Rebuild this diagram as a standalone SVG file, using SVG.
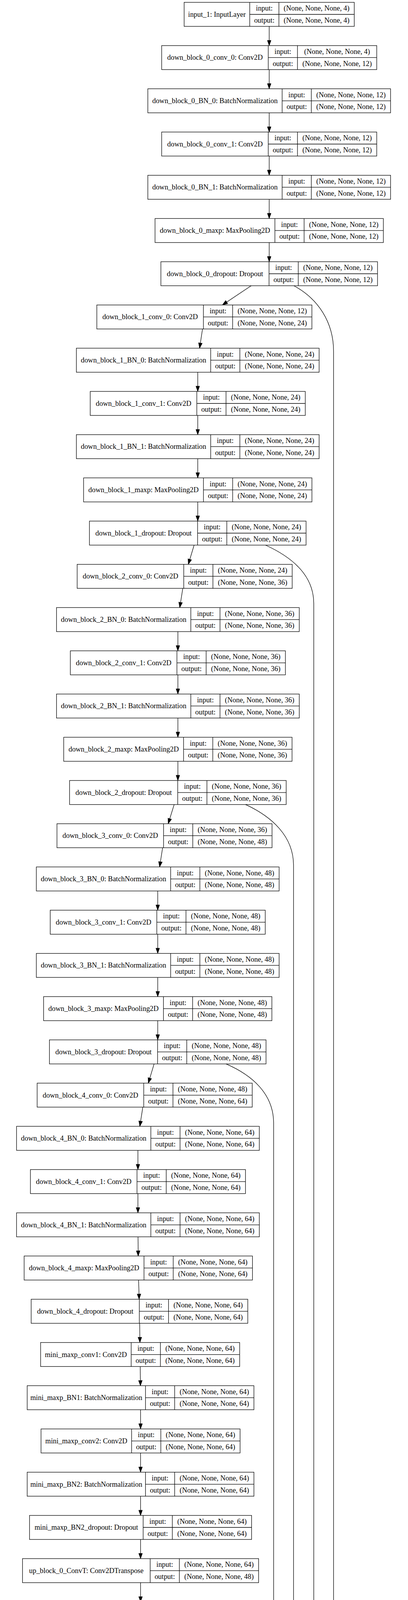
<svg xmlns="http://www.w3.org/2000/svg" width="1045" height="7820" viewBox="0 0 1045 7820">
<style>
.n rect{fill:#fff;stroke:#000;stroke-width:1.3}
.n path{fill:none;stroke:#000;stroke-width:1.3}
.n text{font-family:"Liberation Serif","Times New Roman",serif;font-size:18.4px;text-anchor:middle;fill:#000}
.e path{fill:none;stroke:#000;stroke-width:1.3;marker-end:url(#ah)}
</style>
<defs>
<marker id="ah" markerUnits="userSpaceOnUse" markerWidth="14" markerHeight="10" viewBox="0 0 14 10" refX="13.3" refY="4.67" orient="auto" overflow="visible"><path d="M0,0 L13.3,4.67 L0,9.33 Z" fill="#000" stroke="#000" stroke-width="1"/></marker>
</defs>
<rect width="1045" height="7820" fill="#fff"/>
<g class="e">
<path d="M689.5 67.5V116.7"/>
<path d="M689.5 178.2V227.3"/>
<path d="M689.5 288.8V338"/>
<path d="M689.5 399.5V448.7"/>
<path d="M689.5 510.2V559.4"/>
<path d="M689.5 620.9V670"/>
<path d="M643.3 731.5L569.6 780.7"/>
<path d="M518.7 842.2L511.2 891.4"/>
<path d="M506.5 952.9V1002"/>
<path d="M506.5 1063.5V1112.7"/>
<path d="M506.5 1174.2V1223.4"/>
<path d="M506.5 1284.9V1334"/>
<path d="M497.2 1395.5L482.3 1444.7"/>
<path d="M468.2 1506.2L460.4 1555.4"/>
<path d="M455.6 1616.9V1666.1"/>
<path d="M455.6 1727.6V1776.7"/>
<path d="M455.6 1838.2V1887.4"/>
<path d="M455.6 1948.9V1998.1"/>
<path d="M446.1 2059.6L430.8 2108.7"/>
<path d="M416.5 2170.2L408.8 2219.4"/>
<path d="M404 2280.9V2330.1"/>
<path d="M404 2391.6V2440.7"/>
<path d="M404 2502.2V2551.4"/>
<path d="M404 2612.9V2662.1"/>
<path d="M394.7 2723.6L379.9 2772.8"/>
<path d="M365.8 2834.3L358.1 2883.4"/>
<path d="M353.3 2944.9V2994.1"/>
<path d="M353.3 3055.6V3104.8"/>
<path d="M353.5 3166.3L354 3215.4"/>
<path d="M355 3276.9L356.4 3326.1"/>
<path d="M357.7 3387.6L358.4 3436.8"/>
<path d="M359.2 3498.3L359.7 3547.4"/>
<path d="M360 3608.9V3658.1"/>
<path d="M360 3719.6V3768.8"/>
<path d="M360 3830.3V3879.5"/>
<path d="M360 3941V3990.1"/>
<path d="M360 4051.6V4100.8"/>
<path d="M360 4162.3V4211.5"/>
<path d="M360 4273V4322.1"/>
<path d="M360 4383.6V4432.8"/>
<path d="M360 4494.3V4543.5"/>
<path d="M359.9 4605L359.7 4654.1"/>
<path d="M366.5 4715.6L377.7 4764.8"/>
<path d="M388.4 4826.3L394.3 4875.5"/>
<path d="M400 4937L403 4986.2"/>
<path d="M405.1 5047.7L405.3 5096.8"/>
<path d="M406.4 5158.3L408 5207.5"/>
<path d="M409.2 5269L409.8 5318.2"/>
<path d="M410.5 5379.7L411.1 5428.8"/>
<path d="M411.8 5490.3L412.3 5539.5"/>
<path d="M419.7 5601L430.9 5650.2"/>
<path d="M441.5 5711.7L447 5760.8"/>
<path d="M452.3 5822.3L455 5871.5"/>
<path d="M457.6 5933L458.8 5982.2"/>
<path d="M460 6043.7L460.7 6092.9"/>
<path d="M461.4 6154.4L462 6203.5"/>
<path d="M469.8 6265L481.8 6314.2"/>
<path d="M493.4 6375.7L500.1 6424.9"/>
<path d="M505.1 6486.4L506.7 6535.5"/>
<path d="M509.6 6597L512.7 6646.2"/>
<path d="M514.9 6707.7L515.4 6756.9"/>
<path d="M516 6818.4L516.6 6867.5"/>
<path d="M563.7 6929L638.4 6978.2"/>
<path d="M685.1 7039.7V7088.9"/>
<path d="M685.1 7150.4V7199.6"/>
<path d="M685.1 7261.1V7310.2"/>
<path d="M685.1 7371.7V7420.9"/>
<path d="M685.1 7482.4V7531.6"/>
<path d="M685.1 7593.1V7642.2"/>
<path d="M685.1 7703.7V7752.9"/>
<path d="M752.7 731.5C815 765 854.4 825 854.4 900L854.4 6840C854.4 6910 815 6945 769.3 6978.2"/>
<path d="M680 1395.5C745 1425 803.6 1470 803.6 1545L803.6 6060C803.6 6140 735 6170 646.6 6203.5"/>
<path d="M629 2059.6C695 2090 751.8 2140 751.8 2215L751.8 5310C751.8 5380 688 5398 601 5428.8"/>
<path d="M579 2723.6C645 2752 700.8 2800 700.8 2875L700.8 4530C700.8 4600 630 4625 552.4 4654.1"/>
</g>
<g class="n" id="n0" transform="translate(471.6,6)"><rect width="435.8" height="61.5"/><path d="M168 0V61.5M242.8 0V61.5M168 30.75H435.8"/><text x="84" y="36.8">input_1: InputLayer</text><text x="205.4" y="21.4">input:</text><text x="205.4" y="52.1">output:</text><text x="339.3" y="21.4">(None, None, None, 4)</text><text x="339.3" y="52.1">(None, None, None, 4)</text></g>
<g class="n" id="n1" transform="translate(414.1,116.7)"><rect width="550.8" height="61.5"/><path d="M273 0V61.5M347.8 0V61.5M273 30.75H550.8"/><text x="136.5" y="36.8">down_block_0_conv_0: Conv2D</text><text x="310.4" y="21.4">input:</text><text x="310.4" y="52.1">output:</text><text x="449.3" y="21.4">(None, None, None, 4)</text><text x="449.3" y="52.1">(None, None, None, 12)</text></g>
<g class="n" id="n2" transform="translate(378.6,227.3)"><rect width="621.8" height="61.5"/><path d="M344 0V61.5M418.8 0V61.5M344 30.75H621.8"/><text x="172" y="36.8">down_block_0_BN_0: BatchNormalization</text><text x="381.4" y="21.4">input:</text><text x="381.4" y="52.1">output:</text><text x="520.3" y="21.4">(None, None, None, 12)</text><text x="520.3" y="52.1">(None, None, None, 12)</text></g>
<g class="n" id="n3" transform="translate(414.1,338)"><rect width="550.8" height="61.5"/><path d="M273 0V61.5M347.8 0V61.5M273 30.75H550.8"/><text x="136.5" y="36.8">down_block_0_conv_1: Conv2D</text><text x="310.4" y="21.4">input:</text><text x="310.4" y="52.1">output:</text><text x="449.3" y="21.4">(None, None, None, 12)</text><text x="449.3" y="52.1">(None, None, None, 12)</text></g>
<g class="n" id="n4" transform="translate(378.6,448.7)"><rect width="621.8" height="61.5"/><path d="M344 0V61.5M418.8 0V61.5M344 30.75H621.8"/><text x="172" y="36.8">down_block_0_BN_1: BatchNormalization</text><text x="381.4" y="21.4">input:</text><text x="381.4" y="52.1">output:</text><text x="520.3" y="21.4">(None, None, None, 12)</text><text x="520.3" y="52.1">(None, None, None, 12)</text></g>
<g class="n" id="n5" transform="translate(397.1,559.4)"><rect width="584.8" height="61.5"/><path d="M307 0V61.5M381.8 0V61.5M307 30.75H584.8"/><text x="153.5" y="36.8">down_block_0_maxp: MaxPooling2D</text><text x="344.4" y="21.4">input:</text><text x="344.4" y="52.1">output:</text><text x="483.3" y="21.4">(None, None, None, 12)</text><text x="483.3" y="52.1">(None, None, None, 12)</text></g>
<g class="n" id="n6" transform="translate(412.1,670)"><rect width="554.8" height="61.5"/><path d="M277 0V61.5M351.8 0V61.5M277 30.75H554.8"/><text x="138.5" y="36.8">down_block_0_dropout: Dropout</text><text x="314.4" y="21.4">input:</text><text x="314.4" y="52.1">output:</text><text x="453.3" y="21.4">(None, None, None, 12)</text><text x="453.3" y="52.1">(None, None, None, 12)</text></g>
<g class="n" id="n7" transform="translate(248,780.7)"><rect width="550.8" height="61.5"/><path d="M273 0V61.5M347.8 0V61.5M273 30.75H550.8"/><text x="136.5" y="36.8">down_block_1_conv_0: Conv2D</text><text x="310.4" y="21.4">input:</text><text x="310.4" y="52.1">output:</text><text x="449.3" y="21.4">(None, None, None, 12)</text><text x="449.3" y="52.1">(None, None, None, 24)</text></g>
<g class="n" id="n8" transform="translate(195.6,891.4)"><rect width="621.8" height="61.5"/><path d="M344 0V61.5M418.8 0V61.5M344 30.75H621.8"/><text x="172" y="36.8">down_block_1_BN_0: BatchNormalization</text><text x="381.4" y="21.4">input:</text><text x="381.4" y="52.1">output:</text><text x="520.3" y="21.4">(None, None, None, 24)</text><text x="520.3" y="52.1">(None, None, None, 24)</text></g>
<g class="n" id="n9" transform="translate(231.1,1002)"><rect width="550.8" height="61.5"/><path d="M273 0V61.5M347.8 0V61.5M273 30.75H550.8"/><text x="136.5" y="36.8">down_block_1_conv_1: Conv2D</text><text x="310.4" y="21.4">input:</text><text x="310.4" y="52.1">output:</text><text x="449.3" y="21.4">(None, None, None, 24)</text><text x="449.3" y="52.1">(None, None, None, 24)</text></g>
<g class="n" id="n10" transform="translate(195.6,1112.7)"><rect width="621.8" height="61.5"/><path d="M344 0V61.5M418.8 0V61.5M344 30.75H621.8"/><text x="172" y="36.8">down_block_1_BN_1: BatchNormalization</text><text x="381.4" y="21.4">input:</text><text x="381.4" y="52.1">output:</text><text x="520.3" y="21.4">(None, None, None, 24)</text><text x="520.3" y="52.1">(None, None, None, 24)</text></g>
<g class="n" id="n11" transform="translate(214.1,1223.4)"><rect width="584.8" height="61.5"/><path d="M307 0V61.5M381.8 0V61.5M307 30.75H584.8"/><text x="153.5" y="36.8">down_block_1_maxp: MaxPooling2D</text><text x="344.4" y="21.4">input:</text><text x="344.4" y="52.1">output:</text><text x="483.3" y="21.4">(None, None, None, 24)</text><text x="483.3" y="52.1">(None, None, None, 24)</text></g>
<g class="n" id="n12" transform="translate(229.1,1334)"><rect width="554.8" height="61.5"/><path d="M277 0V61.5M351.8 0V61.5M277 30.75H554.8"/><text x="138.5" y="36.8">down_block_1_dropout: Dropout</text><text x="314.4" y="21.4">input:</text><text x="314.4" y="52.1">output:</text><text x="453.3" y="21.4">(None, None, None, 24)</text><text x="453.3" y="52.1">(None, None, None, 24)</text></g>
<g class="n" id="n13" transform="translate(197.6,1444.7)"><rect width="550.8" height="61.5"/><path d="M273 0V61.5M347.8 0V61.5M273 30.75H550.8"/><text x="136.5" y="36.8">down_block_2_conv_0: Conv2D</text><text x="310.4" y="21.4">input:</text><text x="310.4" y="52.1">output:</text><text x="449.3" y="21.4">(None, None, None, 24)</text><text x="449.3" y="52.1">(None, None, None, 36)</text></g>
<g class="n" id="n14" transform="translate(144.7,1555.4)"><rect width="621.8" height="61.5"/><path d="M344 0V61.5M418.8 0V61.5M344 30.75H621.8"/><text x="172" y="36.8">down_block_2_BN_0: BatchNormalization</text><text x="381.4" y="21.4">input:</text><text x="381.4" y="52.1">output:</text><text x="520.3" y="21.4">(None, None, None, 36)</text><text x="520.3" y="52.1">(None, None, None, 36)</text></g>
<g class="n" id="n15" transform="translate(180.2,1666.1)"><rect width="550.8" height="61.5"/><path d="M273 0V61.5M347.8 0V61.5M273 30.75H550.8"/><text x="136.5" y="36.8">down_block_2_conv_1: Conv2D</text><text x="310.4" y="21.4">input:</text><text x="310.4" y="52.1">output:</text><text x="449.3" y="21.4">(None, None, None, 36)</text><text x="449.3" y="52.1">(None, None, None, 36)</text></g>
<g class="n" id="n16" transform="translate(144.7,1776.7)"><rect width="621.8" height="61.5"/><path d="M344 0V61.5M418.8 0V61.5M344 30.75H621.8"/><text x="172" y="36.8">down_block_2_BN_1: BatchNormalization</text><text x="381.4" y="21.4">input:</text><text x="381.4" y="52.1">output:</text><text x="520.3" y="21.4">(None, None, None, 36)</text><text x="520.3" y="52.1">(None, None, None, 36)</text></g>
<g class="n" id="n17" transform="translate(163.2,1887.4)"><rect width="584.8" height="61.5"/><path d="M307 0V61.5M381.8 0V61.5M307 30.75H584.8"/><text x="153.5" y="36.8">down_block_2_maxp: MaxPooling2D</text><text x="344.4" y="21.4">input:</text><text x="344.4" y="52.1">output:</text><text x="483.3" y="21.4">(None, None, None, 36)</text><text x="483.3" y="52.1">(None, None, None, 36)</text></g>
<g class="n" id="n18" transform="translate(178.2,1998.1)"><rect width="554.8" height="61.5"/><path d="M277 0V61.5M351.8 0V61.5M277 30.75H554.8"/><text x="138.5" y="36.8">down_block_2_dropout: Dropout</text><text x="314.4" y="21.4">input:</text><text x="314.4" y="52.1">output:</text><text x="453.3" y="21.4">(None, None, None, 36)</text><text x="453.3" y="52.1">(None, None, None, 36)</text></g>
<g class="n" id="n19" transform="translate(145.9,2108.7)"><rect width="550.8" height="61.5"/><path d="M273 0V61.5M347.8 0V61.5M273 30.75H550.8"/><text x="136.5" y="36.8">down_block_3_conv_0: Conv2D</text><text x="310.4" y="21.4">input:</text><text x="310.4" y="52.1">output:</text><text x="449.3" y="21.4">(None, None, None, 36)</text><text x="449.3" y="52.1">(None, None, None, 48)</text></g>
<g class="n" id="n20" transform="translate(93.1,2219.4)"><rect width="621.8" height="61.5"/><path d="M344 0V61.5M418.8 0V61.5M344 30.75H621.8"/><text x="172" y="36.8">down_block_3_BN_0: BatchNormalization</text><text x="381.4" y="21.4">input:</text><text x="381.4" y="52.1">output:</text><text x="520.3" y="21.4">(None, None, None, 48)</text><text x="520.3" y="52.1">(None, None, None, 48)</text></g>
<g class="n" id="n21" transform="translate(128.6,2330.1)"><rect width="550.8" height="61.5"/><path d="M273 0V61.5M347.8 0V61.5M273 30.75H550.8"/><text x="136.5" y="36.8">down_block_3_conv_1: Conv2D</text><text x="310.4" y="21.4">input:</text><text x="310.4" y="52.1">output:</text><text x="449.3" y="21.4">(None, None, None, 48)</text><text x="449.3" y="52.1">(None, None, None, 48)</text></g>
<g class="n" id="n22" transform="translate(93.1,2440.7)"><rect width="621.8" height="61.5"/><path d="M344 0V61.5M418.8 0V61.5M344 30.75H621.8"/><text x="172" y="36.8">down_block_3_BN_1: BatchNormalization</text><text x="381.4" y="21.4">input:</text><text x="381.4" y="52.1">output:</text><text x="520.3" y="21.4">(None, None, None, 48)</text><text x="520.3" y="52.1">(None, None, None, 48)</text></g>
<g class="n" id="n23" transform="translate(111.6,2551.4)"><rect width="584.8" height="61.5"/><path d="M307 0V61.5M381.8 0V61.5M307 30.75H584.8"/><text x="153.5" y="36.8">down_block_3_maxp: MaxPooling2D</text><text x="344.4" y="21.4">input:</text><text x="344.4" y="52.1">output:</text><text x="483.3" y="21.4">(None, None, None, 48)</text><text x="483.3" y="52.1">(None, None, None, 48)</text></g>
<g class="n" id="n24" transform="translate(126.6,2662.1)"><rect width="554.8" height="61.5"/><path d="M277 0V61.5M351.8 0V61.5M277 30.75H554.8"/><text x="138.5" y="36.8">down_block_3_dropout: Dropout</text><text x="314.4" y="21.4">input:</text><text x="314.4" y="52.1">output:</text><text x="453.3" y="21.4">(None, None, None, 48)</text><text x="453.3" y="52.1">(None, None, None, 48)</text></g>
<g class="n" id="n25" transform="translate(95.2,2772.8)"><rect width="550.8" height="61.5"/><path d="M273 0V61.5M347.8 0V61.5M273 30.75H550.8"/><text x="136.5" y="36.8">down_block_4_conv_0: Conv2D</text><text x="310.4" y="21.4">input:</text><text x="310.4" y="52.1">output:</text><text x="449.3" y="21.4">(None, None, None, 48)</text><text x="449.3" y="52.1">(None, None, None, 64)</text></g>
<g class="n" id="n26" transform="translate(42.4,2883.4)"><rect width="621.8" height="61.5"/><path d="M344 0V61.5M418.8 0V61.5M344 30.75H621.8"/><text x="172" y="36.8">down_block_4_BN_0: BatchNormalization</text><text x="381.4" y="21.4">input:</text><text x="381.4" y="52.1">output:</text><text x="520.3" y="21.4">(None, None, None, 64)</text><text x="520.3" y="52.1">(None, None, None, 64)</text></g>
<g class="n" id="n27" transform="translate(77.9,2994.1)"><rect width="550.8" height="61.5"/><path d="M273 0V61.5M347.8 0V61.5M273 30.75H550.8"/><text x="136.5" y="36.8">down_block_4_conv_1: Conv2D</text><text x="310.4" y="21.4">input:</text><text x="310.4" y="52.1">output:</text><text x="449.3" y="21.4">(None, None, None, 64)</text><text x="449.3" y="52.1">(None, None, None, 64)</text></g>
<g class="n" id="n28" transform="translate(42.4,3104.8)"><rect width="621.8" height="61.5"/><path d="M344 0V61.5M418.8 0V61.5M344 30.75H621.8"/><text x="172" y="36.8">down_block_4_BN_1: BatchNormalization</text><text x="381.4" y="21.4">input:</text><text x="381.4" y="52.1">output:</text><text x="520.3" y="21.4">(None, None, None, 64)</text><text x="520.3" y="52.1">(None, None, None, 64)</text></g>
<g class="n" id="n29" transform="translate(61.8,3215.4)"><rect width="584.8" height="61.5"/><path d="M307 0V61.5M381.8 0V61.5M307 30.75H584.8"/><text x="153.5" y="36.8">down_block_4_maxp: MaxPooling2D</text><text x="344.4" y="21.4">input:</text><text x="344.4" y="52.1">output:</text><text x="483.3" y="21.4">(None, None, None, 64)</text><text x="483.3" y="52.1">(None, None, None, 64)</text></g>
<g class="n" id="n30" transform="translate(79.8,3326.1)"><rect width="554.8" height="61.5"/><path d="M277 0V61.5M351.8 0V61.5M277 30.75H554.8"/><text x="138.5" y="36.8">down_block_4_dropout: Dropout</text><text x="314.4" y="21.4">input:</text><text x="314.4" y="52.1">output:</text><text x="453.3" y="21.4">(None, None, None, 64)</text><text x="453.3" y="52.1">(None, None, None, 64)</text></g>
<g class="n" id="n31" transform="translate(104,3436.8)"><rect width="509.8" height="61.5"/><path d="M232 0V61.5M306.8 0V61.5M232 30.75H509.8"/><text x="116" y="36.8">mini_maxp_conv1: Conv2D</text><text x="269.4" y="21.4">input:</text><text x="269.4" y="52.1">output:</text><text x="408.3" y="21.4">(None, None, None, 64)</text><text x="408.3" y="52.1">(None, None, None, 64)</text></g>
<g class="n" id="n32" transform="translate(69.6,3547.4)"><rect width="580.8" height="61.5"/><path d="M303 0V61.5M377.8 0V61.5M303 30.75H580.8"/><text x="151.5" y="36.8">mini_maxp_BN1: BatchNormalization</text><text x="340.4" y="21.4">input:</text><text x="340.4" y="52.1">output:</text><text x="479.3" y="21.4">(None, None, None, 64)</text><text x="479.3" y="52.1">(None, None, None, 64)</text></g>
<g class="n" id="n33" transform="translate(105.1,3658.1)"><rect width="509.8" height="61.5"/><path d="M232 0V61.5M306.8 0V61.5M232 30.75H509.8"/><text x="116" y="36.8">mini_maxp_conv2: Conv2D</text><text x="269.4" y="21.4">input:</text><text x="269.4" y="52.1">output:</text><text x="408.3" y="21.4">(None, None, None, 64)</text><text x="408.3" y="52.1">(None, None, None, 64)</text></g>
<g class="n" id="n34" transform="translate(69.6,3768.8)"><rect width="580.8" height="61.5"/><path d="M303 0V61.5M377.8 0V61.5M303 30.75H580.8"/><text x="151.5" y="36.8">mini_maxp_BN2: BatchNormalization</text><text x="340.4" y="21.4">input:</text><text x="340.4" y="52.1">output:</text><text x="479.3" y="21.4">(None, None, None, 64)</text><text x="479.3" y="52.1">(None, None, None, 64)</text></g>
<g class="n" id="n35" transform="translate(75.6,3879.5)"><rect width="568.8" height="61.5"/><path d="M291 0V61.5M365.8 0V61.5M291 30.75H568.8"/><text x="145.5" y="36.8">mini_maxp_BN2_dropout: Dropout</text><text x="328.4" y="21.4">input:</text><text x="328.4" y="52.1">output:</text><text x="467.3" y="21.4">(None, None, None, 64)</text><text x="467.3" y="52.1">(None, None, None, 64)</text></g>
<g class="n" id="n36" transform="translate(57.6,3990.1)"><rect width="604.8" height="61.5"/><path d="M327 0V61.5M401.8 0V61.5M327 30.75H604.8"/><text x="163.5" y="36.8">up_block_0_ConvT: Conv2DTranspose</text><text x="364.4" y="21.4">input:</text><text x="364.4" y="52.1">output:</text><text x="503.3" y="21.4">(None, None, None, 64)</text><text x="503.3" y="52.1">(None, None, None, 48)</text></g>
<g class="n" id="n37" transform="translate(60.1,4100.8)"><rect width="599.8" height="61.5"/><path d="M322 0V61.5M396.8 0V61.5M322 30.75H599.8"/><text x="161" y="36.8">up_block_0_BN_0: BatchNormalization</text><text x="359.4" y="21.4">input:</text><text x="359.4" y="52.1">output:</text><text x="498.3" y="21.4">(None, None, None, 48)</text><text x="498.3" y="52.1">(None, None, None, 48)</text></g>
<g class="n" id="n38" transform="translate(96.1,4211.5)"><rect width="527.8" height="61.5"/><path d="M250 0V61.5M324.8 0V61.5M250 30.75H527.8"/><text x="125" y="36.8">up_block_0_conv_1: Conv2D</text><text x="287.4" y="21.4">input:</text><text x="287.4" y="52.1">output:</text><text x="426.3" y="21.4">(None, None, None, 48)</text><text x="426.3" y="52.1">(None, None, None, 48)</text></g>
<g class="n" id="n39" transform="translate(60.1,4322.1)"><rect width="599.8" height="61.5"/><path d="M322 0V61.5M396.8 0V61.5M322 30.75H599.8"/><text x="161" y="36.8">up_block_0_BN_1: BatchNormalization</text><text x="359.4" y="21.4">input:</text><text x="359.4" y="52.1">output:</text><text x="498.3" y="21.4">(None, None, None, 48)</text><text x="498.3" y="52.1">(None, None, None, 48)</text></g>
<g class="n" id="n40" transform="translate(96.1,4432.8)"><rect width="527.8" height="61.5"/><path d="M250 0V61.5M324.8 0V61.5M250 30.75H527.8"/><text x="125" y="36.8">up_block_0_conv_2: Conv2D</text><text x="287.4" y="21.4">input:</text><text x="287.4" y="52.1">output:</text><text x="426.3" y="21.4">(None, None, None, 48)</text><text x="426.3" y="52.1">(None, None, None, 48)</text></g>
<g class="n" id="n41" transform="translate(60.1,4543.5)"><rect width="599.8" height="61.5"/><path d="M322 0V61.5M396.8 0V61.5M322 30.75H599.8"/><text x="161" y="36.8">up_block_0_BN_2: BatchNormalization</text><text x="359.4" y="21.4">input:</text><text x="359.4" y="52.1">output:</text><text x="498.3" y="21.4">(None, None, None, 48)</text><text x="498.3" y="52.1">(None, None, None, 48)</text></g>
<g class="n" id="n42" transform="translate(4.7,4654.1)"><rect width="709.8" height="61.5"/><path d="M231 0V61.5M305.8 0V61.5M231 30.75H709.8"/><text x="115.5" y="36.8">concatenate_1: Concatenate</text><text x="268.4" y="21.4">input:</text><text x="268.4" y="52.1">output:</text><text x="507.8" y="21.4">[(None, None, None, 48), (None, None, None, 48)]</text><text x="507.8" y="52.1">(None, None, None, 96)</text></g>
<g class="n" id="n43" transform="translate(82.2,4764.8)"><rect width="604.8" height="61.5"/><path d="M327 0V61.5M401.8 0V61.5M327 30.75H604.8"/><text x="163.5" y="36.8">up_block_1_ConvT: Conv2DTranspose</text><text x="364.4" y="21.4">input:</text><text x="364.4" y="52.1">output:</text><text x="503.3" y="21.4">(None, None, None, 96)</text><text x="503.3" y="52.1">(None, None, None, 36)</text></g>
<g class="n" id="n44" transform="translate(98.2,4875.5)"><rect width="599.8" height="61.5"/><path d="M322 0V61.5M396.8 0V61.5M322 30.75H599.8"/><text x="161" y="36.8">up_block_1_BN_0: BatchNormalization</text><text x="359.4" y="21.4">input:</text><text x="359.4" y="52.1">output:</text><text x="498.3" y="21.4">(None, None, None, 36)</text><text x="498.3" y="52.1">(None, None, None, 36)</text></g>
<g class="n" id="n45" transform="translate(141,4986.2)"><rect width="527.8" height="61.5"/><path d="M250 0V61.5M324.8 0V61.5M250 30.75H527.8"/><text x="125" y="36.8">up_block_1_conv_1: Conv2D</text><text x="287.4" y="21.4">input:</text><text x="287.4" y="52.1">output:</text><text x="426.3" y="21.4">(None, None, None, 36)</text><text x="426.3" y="52.1">(None, None, None, 36)</text></g>
<g class="n" id="n46" transform="translate(105.6,5096.8)"><rect width="599.8" height="61.5"/><path d="M322 0V61.5M396.8 0V61.5M322 30.75H599.8"/><text x="161" y="36.8">up_block_1_BN_1: BatchNormalization</text><text x="359.4" y="21.4">input:</text><text x="359.4" y="52.1">output:</text><text x="498.3" y="21.4">(None, None, None, 36)</text><text x="498.3" y="52.1">(None, None, None, 36)</text></g>
<g class="n" id="n47" transform="translate(145,5207.5)"><rect width="527.8" height="61.5"/><path d="M250 0V61.5M324.8 0V61.5M250 30.75H527.8"/><text x="125" y="36.8">up_block_1_conv_2: Conv2D</text><text x="287.4" y="21.4">input:</text><text x="287.4" y="52.1">output:</text><text x="426.3" y="21.4">(None, None, None, 36)</text><text x="426.3" y="52.1">(None, None, None, 36)</text></g>
<g class="n" id="n48" transform="translate(110.2,5318.2)"><rect width="599.8" height="61.5"/><path d="M322 0V61.5M396.8 0V61.5M322 30.75H599.8"/><text x="161" y="36.8">up_block_1_BN_2: BatchNormalization</text><text x="359.4" y="21.4">input:</text><text x="359.4" y="52.1">output:</text><text x="498.3" y="21.4">(None, None, None, 36)</text><text x="498.3" y="52.1">(None, None, None, 36)</text></g>
<g class="n" id="n49" transform="translate(56.6,5428.8)"><rect width="709.8" height="61.5"/><path d="M231 0V61.5M305.8 0V61.5M231 30.75H709.8"/><text x="115.5" y="36.8">concatenate_2: Concatenate</text><text x="268.4" y="21.4">input:</text><text x="268.4" y="52.1">output:</text><text x="507.8" y="21.4">[(None, None, None, 36), (None, None, None, 36)]</text><text x="507.8" y="52.1">(None, None, None, 72)</text></g>
<g class="n" id="n50" transform="translate(110.2,5539.5)"><rect width="604.8" height="61.5"/><path d="M327 0V61.5M401.8 0V61.5M327 30.75H604.8"/><text x="163.5" y="36.8">up_block_2_ConvT: Conv2DTranspose</text><text x="364.4" y="21.4">input:</text><text x="364.4" y="52.1">output:</text><text x="503.3" y="21.4">(None, None, None, 72)</text><text x="503.3" y="52.1">(None, None, None, 24)</text></g>
<g class="n" id="n51" transform="translate(138.1,5650.2)"><rect width="599.8" height="61.5"/><path d="M322 0V61.5M396.8 0V61.5M322 30.75H599.8"/><text x="161" y="36.8">up_block_2_BN_0: BatchNormalization</text><text x="359.4" y="21.4">input:</text><text x="359.4" y="52.1">output:</text><text x="498.3" y="21.4">(None, None, None, 24)</text><text x="498.3" y="52.1">(None, None, None, 24)</text></g>
<g class="n" id="n52" transform="translate(186.6,5760.8)"><rect width="527.8" height="61.5"/><path d="M250 0V61.5M324.8 0V61.5M250 30.75H527.8"/><text x="125" y="36.8">up_block_2_conv_1: Conv2D</text><text x="287.4" y="21.4">input:</text><text x="287.4" y="52.1">output:</text><text x="426.3" y="21.4">(None, None, None, 24)</text><text x="426.3" y="52.1">(None, None, None, 24)</text></g>
<g class="n" id="n53" transform="translate(156.9,5871.5)"><rect width="599.8" height="61.5"/><path d="M322 0V61.5M396.8 0V61.5M322 30.75H599.8"/><text x="161" y="36.8">up_block_2_BN_1: BatchNormalization</text><text x="359.4" y="21.4">input:</text><text x="359.4" y="52.1">output:</text><text x="498.3" y="21.4">(None, None, None, 24)</text><text x="498.3" y="52.1">(None, None, None, 24)</text></g>
<g class="n" id="n54" transform="translate(195.7,5982.2)"><rect width="527.8" height="61.5"/><path d="M250 0V61.5M324.8 0V61.5M250 30.75H527.8"/><text x="125" y="36.8">up_block_2_conv_2: Conv2D</text><text x="287.4" y="21.4">input:</text><text x="287.4" y="52.1">output:</text><text x="426.3" y="21.4">(None, None, None, 24)</text><text x="426.3" y="52.1">(None, None, None, 24)</text></g>
<g class="n" id="n55" transform="translate(161.2,6092.9)"><rect width="599.8" height="61.5"/><path d="M322 0V61.5M396.8 0V61.5M322 30.75H599.8"/><text x="161" y="36.8">up_block_2_BN_2: BatchNormalization</text><text x="359.4" y="21.4">input:</text><text x="359.4" y="52.1">output:</text><text x="498.3" y="21.4">(None, None, None, 24)</text><text x="498.3" y="52.1">(None, None, None, 24)</text></g>
<g class="n" id="n56" transform="translate(107.4,6203.5)"><rect width="709.8" height="61.5"/><path d="M231 0V61.5M305.8 0V61.5M231 30.75H709.8"/><text x="115.5" y="36.8">concatenate_3: Concatenate</text><text x="268.4" y="21.4">input:</text><text x="268.4" y="52.1">output:</text><text x="507.8" y="21.4">[(None, None, None, 24), (None, None, None, 24)]</text><text x="507.8" y="52.1">(None, None, None, 48)</text></g>
<g class="n" id="n57" transform="translate(186.9,6314.2)"><rect width="604.8" height="61.5"/><path d="M327 0V61.5M401.8 0V61.5M327 30.75H604.8"/><text x="163.5" y="36.8">up_block_3_ConvT: Conv2DTranspose</text><text x="364.4" y="21.4">input:</text><text x="364.4" y="52.1">output:</text><text x="503.3" y="21.4">(None, None, None, 48)</text><text x="503.3" y="52.1">(None, None, None, 12)</text></g>
<g class="n" id="n58" transform="translate(204.3,6424.9)"><rect width="599.8" height="61.5"/><path d="M322 0V61.5M396.8 0V61.5M322 30.75H599.8"/><text x="161" y="36.8">up_block_3_BN_0: BatchNormalization</text><text x="359.4" y="21.4">input:</text><text x="359.4" y="52.1">output:</text><text x="498.3" y="21.4">(None, None, None, 12)</text><text x="498.3" y="52.1">(None, None, None, 12)</text></g>
<g class="n" id="n59" transform="translate(243.7,6535.5)"><rect width="527.8" height="61.5"/><path d="M250 0V61.5M324.8 0V61.5M250 30.75H527.8"/><text x="125" y="36.8">up_block_3_conv_1: Conv2D</text><text x="287.4" y="21.4">input:</text><text x="287.4" y="52.1">output:</text><text x="426.3" y="21.4">(None, None, None, 12)</text><text x="426.3" y="52.1">(None, None, None, 12)</text></g>
<g class="n" id="n60" transform="translate(214.8,6646.2)"><rect width="599.8" height="61.5"/><path d="M322 0V61.5M396.8 0V61.5M322 30.75H599.8"/><text x="161" y="36.8">up_block_3_BN_1: BatchNormalization</text><text x="359.4" y="21.4">input:</text><text x="359.4" y="52.1">output:</text><text x="498.3" y="21.4">(None, None, None, 12)</text><text x="498.3" y="52.1">(None, None, None, 12)</text></g>
<g class="n" id="n61" transform="translate(251.7,6756.9)"><rect width="527.8" height="61.5"/><path d="M250 0V61.5M324.8 0V61.5M250 30.75H527.8"/><text x="125" y="36.8">up_block_3_conv_2: Conv2D</text><text x="287.4" y="21.4">input:</text><text x="287.4" y="52.1">output:</text><text x="426.3" y="21.4">(None, None, None, 12)</text><text x="426.3" y="52.1">(None, None, None, 12)</text></g>
<g class="n" id="n62" transform="translate(217.1,6867.5)"><rect width="599.8" height="61.5"/><path d="M322 0V61.5M396.8 0V61.5M322 30.75H599.8"/><text x="161" y="36.8">up_block_3_BN_2: BatchNormalization</text><text x="359.4" y="21.4">input:</text><text x="359.4" y="52.1">output:</text><text x="498.3" y="21.4">(None, None, None, 12)</text><text x="498.3" y="52.1">(None, None, None, 12)</text></g>
<g class="n" id="n63" transform="translate(330.2,6978.2)"><rect width="709.8" height="61.5"/><path d="M231 0V61.5M305.8 0V61.5M231 30.75H709.8"/><text x="115.5" y="36.8">concatenate_4: Concatenate</text><text x="268.4" y="21.4">input:</text><text x="268.4" y="52.1">output:</text><text x="507.8" y="21.4">[(None, None, None, 12), (None, None, None, 12)]</text><text x="507.8" y="52.1">(None, None, None, 24)</text></g>
<g class="n" id="n64" transform="translate(382.7,7088.9)"><rect width="604.8" height="61.5"/><path d="M327 0V61.5M401.8 0V61.5M327 30.75H604.8"/><text x="163.5" y="36.8">up_block_4_ConvT: Conv2DTranspose</text><text x="364.4" y="21.4">input:</text><text x="364.4" y="52.1">output:</text><text x="503.3" y="21.4">(None, None, None, 24)</text><text x="503.3" y="52.1">(None, None, None, 64)</text></g>
<g class="n" id="n65" transform="translate(385.2,7199.6)"><rect width="599.8" height="61.5"/><path d="M322 0V61.5M396.8 0V61.5M322 30.75H599.8"/><text x="161" y="36.8">up_block_4_BN_0: BatchNormalization</text><text x="359.4" y="21.4">input:</text><text x="359.4" y="52.1">output:</text><text x="498.3" y="21.4">(None, None, None, 64)</text><text x="498.3" y="52.1">(None, None, None, 64)</text></g>
<g class="n" id="n66" transform="translate(421.2,7310.2)"><rect width="527.8" height="61.5"/><path d="M250 0V61.5M324.8 0V61.5M250 30.75H527.8"/><text x="125" y="36.8">up_block_4_conv_1: Conv2D</text><text x="287.4" y="21.4">input:</text><text x="287.4" y="52.1">output:</text><text x="426.3" y="21.4">(None, None, None, 64)</text><text x="426.3" y="52.1">(None, None, None, 64)</text></g>
<g class="n" id="n67" transform="translate(385.2,7420.9)"><rect width="599.8" height="61.5"/><path d="M322 0V61.5M396.8 0V61.5M322 30.75H599.8"/><text x="161" y="36.8">up_block_4_BN_1: BatchNormalization</text><text x="359.4" y="21.4">input:</text><text x="359.4" y="52.1">output:</text><text x="498.3" y="21.4">(None, None, None, 64)</text><text x="498.3" y="52.1">(None, None, None, 64)</text></g>
<g class="n" id="n68" transform="translate(421.2,7531.6)"><rect width="527.8" height="61.5"/><path d="M250 0V61.5M324.8 0V61.5M250 30.75H527.8"/><text x="125" y="36.8">up_block_4_conv_2: Conv2D</text><text x="287.4" y="21.4">input:</text><text x="287.4" y="52.1">output:</text><text x="426.3" y="21.4">(None, None, None, 64)</text><text x="426.3" y="52.1">(None, None, None, 64)</text></g>
<g class="n" id="n69" transform="translate(385.2,7642.2)"><rect width="599.8" height="61.5"/><path d="M322 0V61.5M396.8 0V61.5M322 30.75H599.8"/><text x="161" y="36.8">up_block_4_BN_2: BatchNormalization</text><text x="359.4" y="21.4">input:</text><text x="359.4" y="52.1">output:</text><text x="498.3" y="21.4">(None, None, None, 64)</text><text x="498.3" y="52.1">(None, None, None, 64)</text></g>
<g class="n" id="n70" transform="translate(474.9,7752.9)"><rect width="420.5" height="61.5"/><path d="M142.7 0V61.5M217.5 0V61.5M142.7 30.75H420.5"/><text x="71.4" y="36.8">output: Conv2D</text><text x="180.1" y="21.4">input:</text><text x="180.1" y="52.1">output:</text><text x="319" y="21.4">(None, None, None, 64)</text><text x="319" y="52.1">(None, None, None, 1)</text></g>
</svg>
